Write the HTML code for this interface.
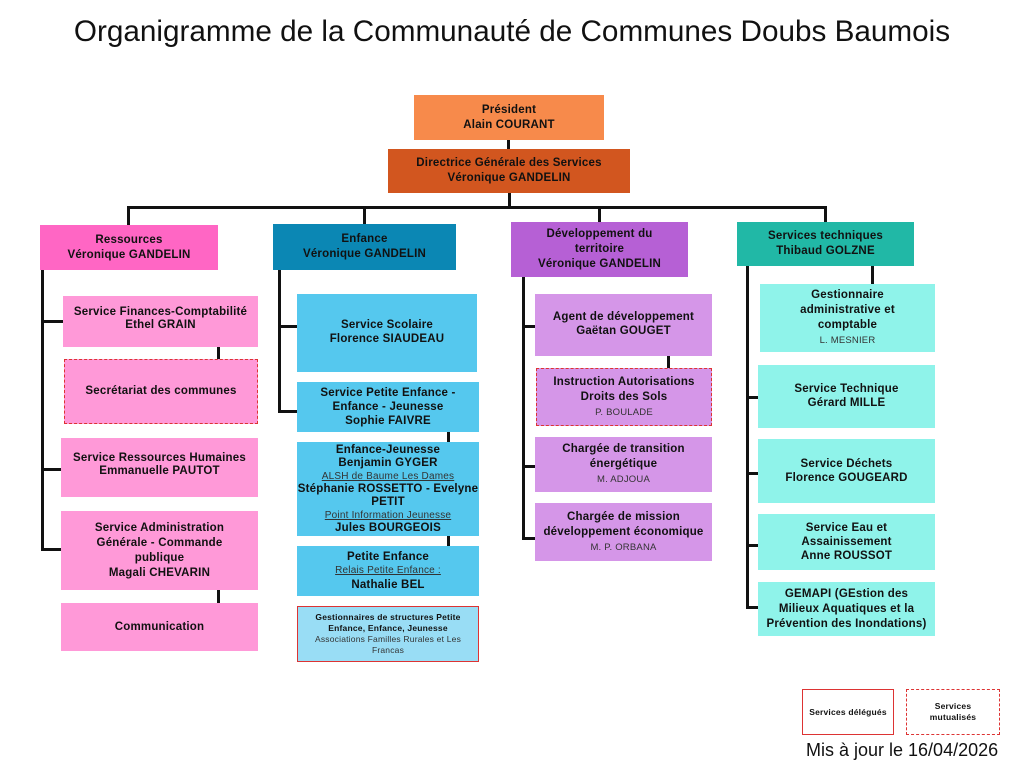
<!DOCTYPE html>
<html><head><meta charset="utf-8"><style>
body{margin:0;width:1024px;height:768px;background:#fff;position:relative;overflow:hidden;font-family:"Liberation Sans",sans-serif;}
.b{position:absolute;box-sizing:border-box;display:flex;flex-direction:column;justify-content:center;align-items:center;text-align:center;font-weight:bold;font-size:11.5px;line-height:15px;color:#111;padding:0 2px;letter-spacing:0.2px;white-space:nowrap;}
.l{position:absolute;background:#111;}
.s{font-weight:normal;font-size:9.5px;color:#333;}
.u{font-weight:normal;font-size:10px;text-decoration:underline;color:#333;}
.p{background:#ff99d8}.c{background:#55c8ee}.v{background:#d596e8}.t{background:#8ff3ea}
.d{border:1.5px dashed #d33}
</style></head><body>
<div style="position:absolute;left:0;width:1024px;top:15px;text-align:center;font-size:29.7px;color:#111;">Organigramme de la Communauté de Communes Doubs Baumois</div>

<div class="l" style="left:507px;top:140px;width:3px;height:10px"></div>
<div class="l" style="left:508px;top:193px;width:3px;height:15px"></div>
<div class="l" style="left:127px;top:206px;width:700px;height:3px"></div>
<div class="l" style="left:127px;top:206px;width:3px;height:20px"></div>
<div class="l" style="left:363px;top:206px;width:3px;height:19px"></div>
<div class="l" style="left:598px;top:206px;width:3px;height:17px"></div>
<div class="l" style="left:824px;top:206px;width:3px;height:17px"></div>

<div class="b" style="left:414px;top:95px;width:190px;height:45px;background:#f78a4b">Président<br>Alain COURANT</div>
<div class="b" style="left:388px;top:149px;width:242px;height:44px;background:#d2561f">Directrice Générale des Services<br>Véronique GANDELIN</div>

<!-- Ressources -->
<div class="l" style="left:41px;top:270px;width:3px;height:281px"></div>
<div class="l" style="left:41px;top:320px;width:22px;height:3px"></div>
<div class="l" style="left:41px;top:468px;width:20px;height:3px"></div>
<div class="l" style="left:41px;top:548px;width:20px;height:3px"></div>
<div class="l" style="left:217px;top:347px;width:3px;height:12px"></div>
<div class="l" style="left:217px;top:590px;width:3px;height:13px"></div>
<div class="b" style="left:40px;top:225px;width:178px;height:45px;background:#ff66c4">Ressources<br>Véronique GANDELIN</div>
<div class="b p" style="left:63px;top:296px;width:195px;height:51px;justify-content:flex-start;padding-top:10px;line-height:13px">Service Finances-Comptabilité<br>Ethel GRAIN</div>
<div class="b p d" style="left:64px;top:359px;width:194px;height:65px;justify-content:flex-start;padding-top:24px">Secrétariat des communes</div>
<div class="b p" style="left:61px;top:438px;width:197px;height:59px;justify-content:flex-start;padding-top:14px;line-height:13px">Service Ressources Humaines<br>Emmanuelle PAUTOT</div>
<div class="b p" style="left:61px;top:511px;width:197px;height:79px">Service Administration<br>Générale - Commande<br>publique<br>Magali CHEVARIN</div>
<div class="b p" style="left:61px;top:603px;width:197px;height:48px">Communication</div>

<!-- Enfance -->
<div class="l" style="left:278px;top:270px;width:3px;height:142px"></div>
<div class="l" style="left:278px;top:325px;width:19px;height:3px"></div>
<div class="l" style="left:278px;top:410px;width:19px;height:3px"></div>
<div class="l" style="left:447px;top:432px;width:3px;height:10px"></div>
<div class="l" style="left:447px;top:536px;width:3px;height:10px"></div>
<div class="b" style="left:273px;top:224px;width:183px;height:46px;background:#0b87b4">Enfance<br>Véronique GANDELIN</div>
<div class="b c" style="left:297px;top:294px;width:180px;height:78px;justify-content:flex-start;padding-top:24px;line-height:14px">Service Scolaire<br>Florence SIAUDEAU</div>
<div class="b c" style="left:297px;top:382px;width:182px;height:50px;line-height:14px">Service Petite Enfance -<br>Enfance - Jeunesse<br>Sophie FAIVRE</div>
<div class="b c" style="left:297px;top:442px;width:182px;height:94px;line-height:13px">Enfance-Jeunesse<br>Benjamin GYGER<br><span class="u">ALSH de Baume Les Dames</span>Stéphanie ROSSETTO - Evelyne<br>PETIT<span class="u">Point Information Jeunesse</span>Jules BOURGEOIS</div>
<div class="b c" style="left:297px;top:546px;width:182px;height:50px;line-height:14px">Petite Enfance<br><span class="u">Relais Petite Enfance :</span>Nathalie BEL</div>
<div class="b" style="left:297px;top:606px;width:182px;height:56px;background:#99ddf5;border:1.5px solid #d33;font-size:8.5px;line-height:11px">Gestionnaires de structures Petite<br>Enfance, Enfance, Jeunesse<span class="s" style="font-size:8.5px">Associations Familles Rurales et Les<br>Francas</span></div>

<!-- Dev -->
<div class="l" style="left:522px;top:277px;width:3px;height:262px"></div>
<div class="l" style="left:522px;top:325px;width:13px;height:3px"></div>
<div class="l" style="left:522px;top:465px;width:13px;height:3px"></div>
<div class="l" style="left:522px;top:537px;width:13px;height:3px"></div>
<div class="l" style="left:667px;top:356px;width:3px;height:12px"></div>
<div class="b" style="left:511px;top:222px;width:177px;height:55px;background:#b660d5">Développement du<br>territoire<br>Véronique GANDELIN</div>
<div class="b v" style="left:535px;top:294px;width:177px;height:62px;justify-content:flex-start;padding-top:16px;line-height:14px">Agent de développement<br>Gaëtan GOUGET</div>
<div class="b v d" style="left:536px;top:368px;width:176px;height:58px">Instruction Autorisations<br>Droits des Sols<span class="s">P. BOULADE</span></div>
<div class="b v" style="left:535px;top:437px;width:177px;height:55px">Chargée de transition<br>énergétique<span class="s">M. ADJOUA</span></div>
<div class="b v" style="left:535px;top:503px;width:177px;height:58px">Chargée de mission<br>développement économique<span class="s">M. P. ORBANA</span></div>

<!-- Tech -->
<div class="l" style="left:746px;top:266px;width:3px;height:343px"></div>
<div class="l" style="left:746px;top:396px;width:12px;height:3px"></div>
<div class="l" style="left:746px;top:472px;width:12px;height:3px"></div>
<div class="l" style="left:746px;top:544px;width:12px;height:3px"></div>
<div class="l" style="left:746px;top:606px;width:12px;height:3px"></div>
<div class="l" style="left:871px;top:266px;width:3px;height:18px"></div>
<div class="b" style="left:737px;top:222px;width:177px;height:44px;background:#21b8a6">Services techniques<br>Thibaud GOLZNE</div>
<div class="b t" style="left:760px;top:284px;width:175px;height:68px">Gestionnaire<br>administrative et<br>comptable<span class="s">L. MESNIER</span></div>
<div class="b t" style="left:758px;top:365px;width:177px;height:63px;justify-content:flex-start;padding-top:17px;line-height:14px">Service Technique<br>Gérard MILLE</div>
<div class="b t" style="left:758px;top:439px;width:177px;height:64px;line-height:14px">Service Déchets<br>Florence GOUGEARD</div>
<div class="b t" style="left:758px;top:514px;width:177px;height:56px;line-height:14px">Service Eau et<br>Assainissement<br>Anne ROUSSOT</div>
<div class="b t" style="left:758px;top:582px;width:177px;height:54px;padding:0 1px">GEMAPI (GEstion des<br>Milieux Aquatiques et la<br>Prévention des Inondations)</div>

<!-- legend -->
<div class="b" style="left:802px;top:689px;width:92px;height:46px;border:1.5px solid #d33;font-size:8.5px">Services délégués</div>
<div class="b" style="left:906px;top:689px;width:94px;height:46px;border:1.5px dashed #d33;font-size:8.5px;line-height:11px">Services<br>mutualisés</div>
<div style="position:absolute;left:806px;top:740px;font-size:18px;color:#111">Mis à jour le 16/04/2026</div>
</body></html>
